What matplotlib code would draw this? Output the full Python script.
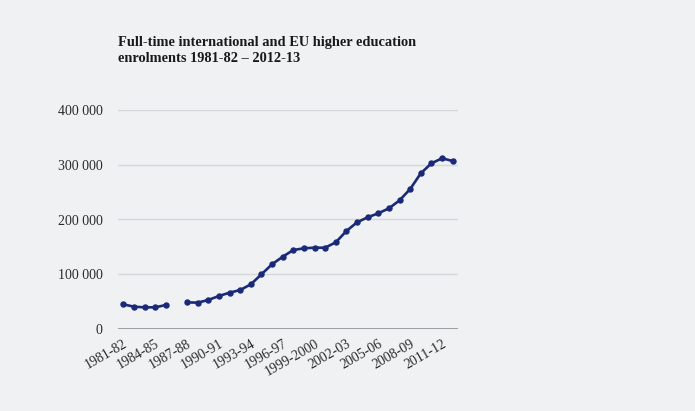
import numpy as np
import matplotlib
matplotlib.use("Agg")
import matplotlib.pyplot as plt

# ---- data ----
years = [f"{y}-{str(y + 1)[-2:]}" for y in range(1981, 2013)]
years[18] = "1999-2000"
enrolments = [45100, 40700, 39600, 39600, 43800, np.nan,
              48700, 48100, 53000, 60300, 66300, 71200, 81600, 99900, 118200,
              132000, 144300, 147400, 148500, 148500, 158400, 179000, 194900,
              204000, 211300, 220400, 235000, 255700, 284400, 302600, 311800,
              306800]
yticks = [0, 100000, 200000, 300000, 400000]
ytick_labels = ["0", "100 000", "200 000", "300 000", "400 000"]

BG = "#f0f1f3"
NAVY = "#1b2a78"
SERIF = ["Liberation Serif", "DejaVu Serif"]

fig = plt.figure(figsize=(6.95, 4.11), dpi=100, facecolor=BG)
ax = fig.add_axes([118 / 695, 1 - 329 / 411, 340 / 695, 219 / 411], facecolor=BG)

x = np.arange(len(years))
ax.plot(x, enrolments, color=NAVY, lw=1.9, marker="o", ms=3.6, zorder=3)

ax.set_xlim(-0.5, 31.5)
ax.set_ylim(0, 400000)
ax.set_yticks(yticks)
ax.set_yticklabels(ytick_labels, family=SERIF, fontsize=10, color="#2a2a2a")
ax.set_xticks(x[::3])
ax.set_xticklabels(years[::3], family=SERIF, fontsize=10, color="#2a2a2a",
                   rotation=30, ha="right", rotation_mode="anchor")
ax.tick_params(length=0, pad=6)
ax.tick_params(axis="y", pad=11)

for v in yticks[1:]:
    ax.axhline(v, color="#d6d7da", lw=1.0, zorder=1)
ax.axhline(0, color="#8e8f93", lw=1.2, zorder=2)
for sp in ax.spines.values():
    sp.set_visible(False)

fig.text(118 / 695, 1 - 36 / 411,
         "Full-time international and EU higher education\nenrolments 1981-82 \u2013 2012-13",
         family=SERIF, fontsize=10.4, fontweight="bold", color="#1a1a1a",
         va="top", ha="left", linespacing=1.3)

fig.savefig("out.png", dpi=100, facecolor=BG)
